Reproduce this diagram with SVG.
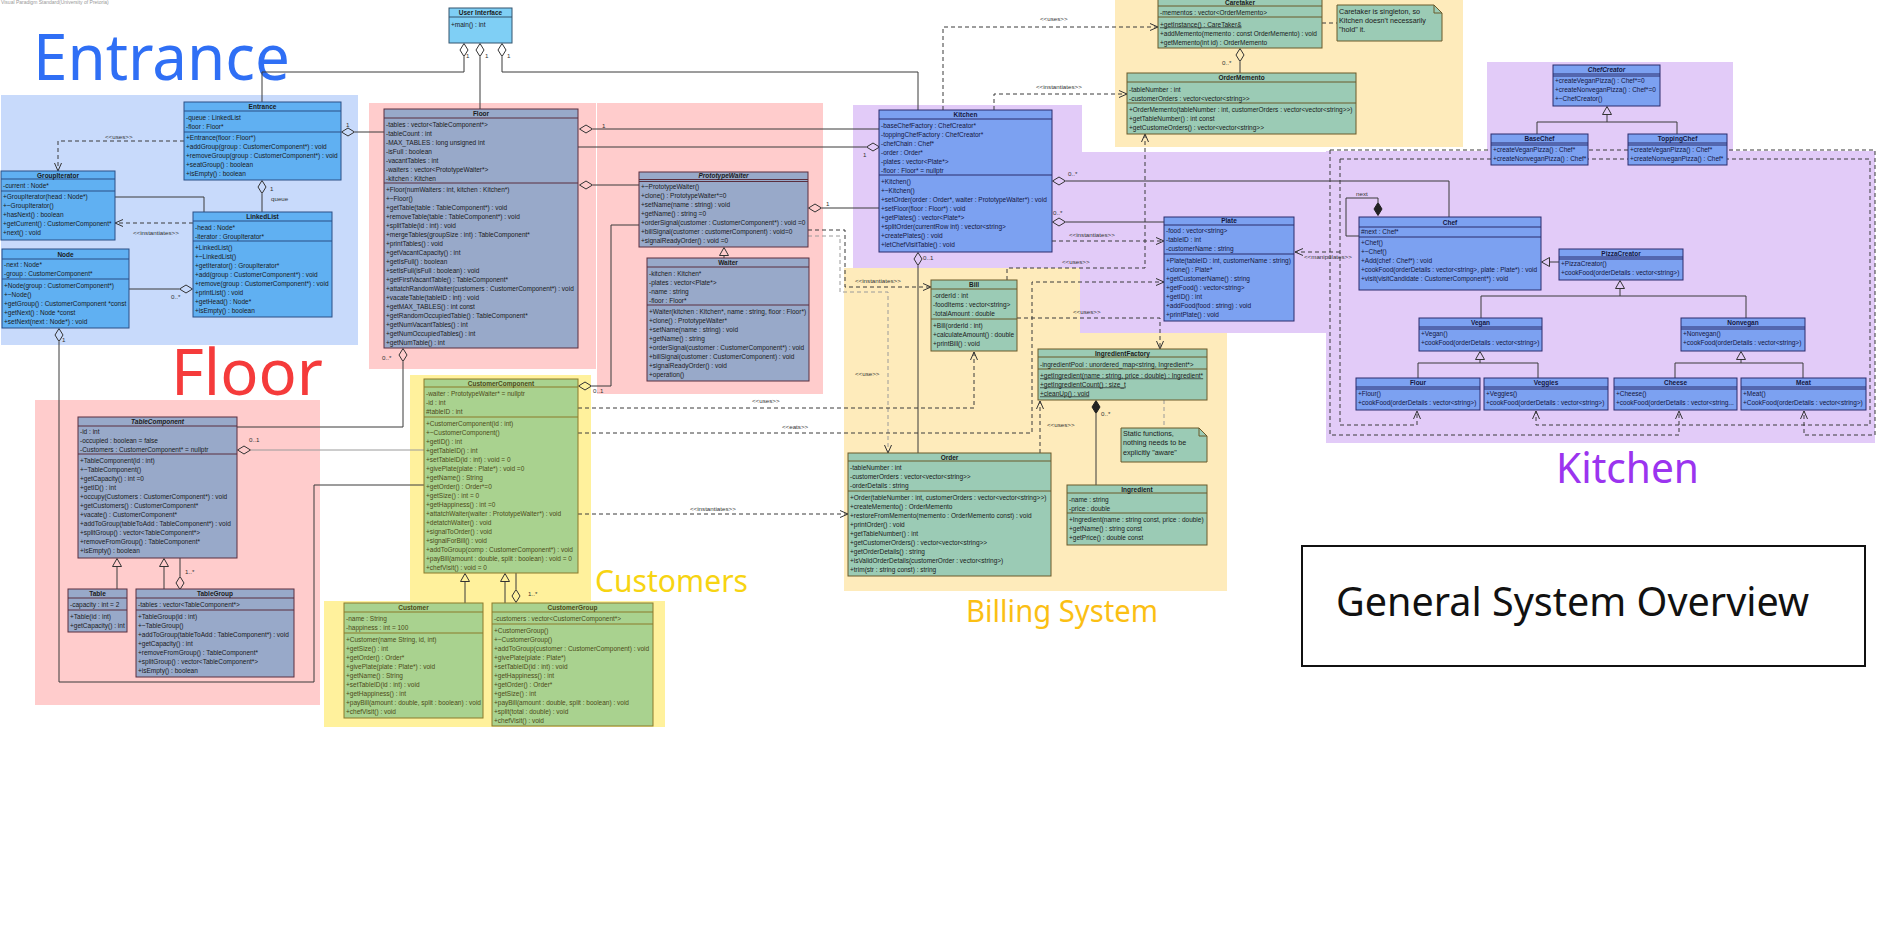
<svg xmlns="http://www.w3.org/2000/svg" width="1879" height="931" viewBox="0 0 1879 931">
<style>
.t{font-family:"Liberation Sans",Arial,sans-serif;font-size:6.5px;fill:#1a1a1a}
.hd{font-weight:bold;text-anchor:middle}
.it{font-style:italic}
.ul{text-decoration:underline}
.nt{font-size:7.2px}
.lb{font-family:"Liberation Sans",Arial,sans-serif;font-size:6.2px;fill:#333}
.big{font-family:"Noto Sans","Open Sans",sans-serif}
.ln{fill:none;stroke:#3a3a3a;stroke-width:1}
.ds{stroke-dasharray:4 3}
.gr{stroke:#9a9a9a}
.bx{stroke-width:1}
.sp{fill:none;stroke-width:1}
.ui .bx{fill:#7fcff5;stroke:#34556e}.ui .sp{stroke:#34556e}
.ent .bx{fill:#60b0f2;stroke:#2a4f86}.ent .sp{stroke:#2a4f86}
.flr .bx{fill:#98a9c9;stroke:#5a2f3f}.flr .sp{stroke:#5a2f3f}
.cus .bx{fill:#a9d28f;stroke:#8b7b2b}.cus .sp{stroke:#8b7b2b}.cus .t{fill:#4d4a18}
.bil .bx{fill:#9bcbb5;stroke:#6b5a2a}.bil .sp{stroke:#6b5a2a}
.kit .bx{fill:#7ca1f1;stroke:#2a2c6c}.kit .sp{stroke:#2a2c6c}.kit .t{fill:#141640}
.rg-b{fill:#c8dafb}.rg-p{fill:#ffcccc}.rg-y{fill:#fff19c}.rg-c{fill:#feebbb}.rg-v{fill:#e2cbf8}
</style>
<defs>
<marker id="ah" viewBox="0 0 8 8" refX="8" refY="4" markerWidth="8" markerHeight="8" markerUnits="userSpaceOnUse" orient="auto" overflow="visible"><path d="M0,0.5 L8,4 L0,7.5" fill="none" stroke="#333" stroke-width="1"/></marker>
<marker id="dm" viewBox="0 -4.5 14 9" refX="0" refY="0" markerWidth="14" markerHeight="9" markerUnits="userSpaceOnUse" orient="auto-start-reverse" overflow="visible"><path d="M0.5,0 L7,-4 L13.5,0 L7,4 Z" fill="none" stroke="#333" stroke-width="1"/></marker>
<marker id="dmf" viewBox="0 -4.5 14 9" refX="0" refY="0" markerWidth="14" markerHeight="9" markerUnits="userSpaceOnUse" orient="auto-start-reverse" overflow="visible"><path d="M0.5,0 L7,-4 L13.5,0 L7,4 Z" fill="#222" stroke="#222" stroke-width="1"/></marker>
<marker id="tri" viewBox="0 -5 9 10" refX="0" refY="0" markerWidth="9" markerHeight="10" markerUnits="userSpaceOnUse" orient="auto" overflow="visible"><path d="M0.5,-4.5 L8.5,0 L0.5,4.5 Z" fill="none" stroke="#333" stroke-width="1"/></marker>
</defs>
<rect x="0" y="0" width="1879" height="931" fill="#fff"/>
<text x="1" y="3.5" style="font-family:'Liberation Sans',Arial,sans-serif;font-size:5px;fill:#999">Visual Paradigm Standard(University of Pretoria)</text>

<g id="regions">
<rect class="rg-b" x="1" y="95" width="357" height="250"/>
<rect class="rg-p" x="369" y="103" width="227" height="266"/>
<rect class="rg-p" x="597" y="103" width="226" height="291"/>
<rect class="rg-p" x="35" y="400" width="285" height="305"/>
<rect class="rg-y" x="410" y="375" width="181" height="227"/>
<rect class="rg-y" x="324" y="601" width="341" height="126"/>
<rect class="rg-c" x="844" y="268" width="383" height="323"/>
<rect class="rg-c" x="1115" y="0" width="348" height="147"/>
<rect class="rg-v" x="853" y="105" width="229" height="163"/>
<rect class="rg-v" x="1080" y="152" width="286" height="181"/>
<rect class="rg-v" x="1326" y="151" width="549" height="292"/>
<rect class="rg-v" x="1487" y="62" width="246" height="91"/>
</g>

<g id="area-labels" class="big">
<text x="33" y="80" font-size="64" fill="#2f6ff5" textLength="257" lengthAdjust="spacingAndGlyphs">Entrance</text>
<text x="171" y="395" font-size="64" fill="#f53b3b" textLength="152" lengthAdjust="spacingAndGlyphs">Floor</text>
<text x="595" y="592" font-size="31" fill="#f7d412" textLength="153" lengthAdjust="spacingAndGlyphs">Customers</text>
<text x="966" y="622" font-size="30" fill="#fbbf14" textLength="192" lengthAdjust="spacingAndGlyphs">Billing System</text>
<text x="1556" y="483" font-size="42" fill="#9b34ef" textLength="143" lengthAdjust="spacingAndGlyphs">Kitchen</text>
</g>

<g id="connectors">
<path class="ln" d="M464,57 V72 H262 V102" marker-start="url(#dm)"/>
<path class="ln" d="M480,57 V109" marker-start="url(#dm)"/>
<path class="ln" d="M502,57 V72 H918 V110" marker-start="url(#dm)"/>
<path class="ln" d="M355,132 H384" marker-start="url(#dm)"/>
<path class="ln" d="M262,194 V212" marker-start="url(#dm)"/>
<path class="ln" d="M115,197 H204 V212"/>
<path class="ln" d="M179,289 H129" marker-start="url(#dm)"/>
<path class="ln" d="M59,342 V682 H314 V485 H424" marker-start="url(#dm)"/>
<path class="ln" d="M593,129 H879" marker-start="url(#dm)"/>
<path class="ln" d="M866,147 H578" marker-start="url(#dm)"/>
<path class="ln" d="M593,185 H639" marker-start="url(#dm)"/>
<path class="ln" d="M403,362 V427 H237" marker-start="url(#dm)"/>
<path class="ln" d="M822,208 H879" marker-start="url(#dm)"/>
<path class="ln" d="M592,386 H611 V225 H639" marker-start="url(#dm)"/>
<path class="ln gr" d="M251,450 H424" marker-start="url(#dm)"/>
<path class="ln" d="M180,576 V558" marker-start="url(#dm)"/>
<path class="ln" d="M117,589 V567" marker-end="url(#tri)"/>
<path class="ln" d="M164,589 V567" marker-end="url(#tri)"/>
<path class="ln" d="M724,258 V256" marker-end="url(#tri)"/>
<path class="ln" d="M465,603 V582" marker-end="url(#tri)"/>
<path class="ln" d="M505,603 V582" marker-end="url(#tri)"/>
<path class="ln" d="M516,589 V573" marker-start="url(#dm)"/>
<path class="ln" d="M918,266 V453" marker-start="url(#dm)"/>
<path class="ln" d="M1066,222 H1164" marker-start="url(#dm)"/>
<path class="ln" d="M1066,181 H1449 V217" marker-start="url(#dm)"/>
<path class="ln" d="M1240,62 V73" marker-start="url(#dm)"/>
<path class="ln" d="M1096,414 V485" marker-start="url(#dmf)"/>
<path class="ln" d="M1378,202 V198 H1346 V236 H1359" marker-start="url(#dmf)"/>
<path class="ln" d="M1559,262 H1550" marker-end="url(#tri)"/>
<path class="ln" d="M1537,134 V122 H1677 V134"/>
<path class="ln" d="M1607,122 V115" marker-end="url(#tri)"/>
<path class="ln" d="M1481,318 V296 H1746 V318"/>
<path class="ln" d="M1620,296 V289" marker-end="url(#tri)"/>
<path class="ln" d="M1418,378 V363 H1538 V378"/>
<path class="ln" d="M1480,363 V360" marker-end="url(#tri)"/>
<path class="ln" d="M1675,378 V363 H1803 V378"/>
<path class="ln" d="M1741,363 V360" marker-end="url(#tri)"/>
<path class="ln ds" d="M184,141 H58 V171" marker-end="url(#ah)"/>
<path class="ln ds" d="M193,223 H115" marker-end="url(#ah)"/>
<path class="ln ds" d="M943,110 V27 H1158" marker-end="url(#ah)"/>
<path class="ln ds" d="M994,110 V94 H1127" marker-end="url(#ah)"/>
<path class="ln ds" d="M1007,280 V268 H1145 V134" marker-end="url(#ah)"/>
<path class="ln ds" d="M1052,241 H1164" marker-end="url(#ah)"/>
<path class="ln ds" d="M808,230 H845 V287 H931" marker-end="url(#ah)"/>
<path class="ln ds gr" d="M808,236 H840 V292 H888 V453" marker-end="url(#ah)"/>
<path class="ln ds" d="M578,408 H974 V352" marker-end="url(#ah)"/>
<path class="ln ds" d="M578,433 H1032 V282 H1164" marker-end="url(#ah)"/>
<path class="ln ds" d="M578,514 H848" marker-end="url(#ah)"/>
<path class="ln ds" d="M1017,318 H1160 V349" marker-end="url(#ah)"/>
<path class="ln ds" d="M1040,453 V401" marker-end="url(#ah)"/>
<path class="ln ds" d="M1322,23 H1337"/>
<path class="ln ds gr" d="M1164,400 V428"/>
<path class="ln ds" d="M1340,252 H1295" marker-end="url(#ah)"/>
<path class="ln ds" d="M1340,159 V425 H1417 V411" marker-end="url(#ah)"/>
<path class="ln ds" d="M1340,159 H1870 V425 H1536 V411" marker-end="url(#ah)"/>
<path class="ln ds" d="M1330,150 V435 H1679 V411" marker-end="url(#ah)"/>
<path class="ln ds" d="M1330,150 H1875 V435 H1804 V411" marker-end="url(#ah)"/>
<g class="lb">
<text x="466" y="57.5">1</text><text x="485" y="57.5">1</text><text x="507" y="57.5">1</text>
<text x="346" y="126.5">1</text>
<text x="270" y="190.5">1</text><text x="271" y="200.5">queue</text>
<text x="171" y="298.5">0..*</text>
<text x="62" y="341.5">1</text>
<text x="602" y="127.5">1</text>
<text x="382" y="359.5">0..*</text>
<text x="863" y="156.5">1</text>
<text x="826" y="205.5">1</text>
<text x="593" y="393">0..1</text>
<text x="249" y="441.5">0..1</text>
<text x="185" y="573.5">1..*</text>
<text x="528" y="595.5">1..*</text>
<text x="923" y="259.5">0..1</text>
<text x="1053" y="214.5">0..*</text>
<text x="1068" y="175.5">0..*</text>
<text x="1222" y="64.5">0..*</text>
<text x="1101" y="415.5">0..*</text>
<text x="1356" y="195.5">next</text>
<text x="105" y="138.5">&lt;&lt;uses&gt;&gt;</text>
<text x="133" y="234.5">&lt;&lt;instantiates&gt;&gt;</text>
<text x="1040" y="21">&lt;&lt;uses&gt;&gt;</text>
<text x="1036" y="89">&lt;&lt;instantiates&gt;&gt;</text>
<text x="1062" y="264">&lt;&lt;uses&gt;&gt;</text>
<text x="1069" y="237">&lt;&lt;instantiates&gt;&gt;</text>
<text x="855" y="282.5">&lt;&lt;instantiates&gt;&gt;</text>
<text x="855" y="376">&lt;&lt;use&gt;&gt;</text>
<text x="752" y="403">&lt;&lt;uses&gt;&gt;</text>
<text x="782" y="429">&lt;&lt;eats&gt;&gt;</text>
<text x="690" y="510.5">&lt;&lt;instantiates&gt;&gt;</text>
<text x="1073" y="313.5">&lt;&lt;uses&gt;&gt;</text>
<text x="1047" y="426.5">&lt;&lt;uses&gt;&gt;</text>
<text x="1304" y="259">&lt;&lt;manipulates&gt;&gt;</text>
</g>
</g>

<g id="user-interface" class="ui">
<rect class="bx" x="449" y="8" width="63" height="35"/>
<path class="sp" d="M449,17H512"/>
<text class="t hd" x="480.5" y="15">User Interface</text>
<text class="t" x="451" y="26.5">+main() : int</text>
</g>

<g id="entrance" class="ent">
<rect class="bx" x="184" y="102" width="157" height="78"/>
<path class="sp" d="M184,111H341M184,132H341"/>
<text class="t hd" x="262.5" y="109">Entrance</text>
<text class="t" x="186" y="119.5"><tspan x="186">-queue : LinkedList</tspan><tspan x="186" dy="9">-floor : Floor*</tspan></text>
<text class="t" x="186" y="139.5"><tspan x="186">+Entrance(floor : Floor*)</tspan><tspan x="186" dy="9">+addGroup(group : CustomerComponent*) : void</tspan><tspan x="186" dy="9">+removeGroup(group : CustomerComponent*) : void</tspan><tspan x="186" dy="9">+seatGroup() : boolean</tspan><tspan x="186" dy="9">+isEmpty() : boolean</tspan></text>
</g>

<g id="group-iterator" class="ent">
<rect class="bx" x="1" y="171" width="114" height="69"/>
<path class="sp" d="M1,179H115M1,191H115"/>
<text class="t hd" x="58" y="177.5">GroupIterator</text>
<text class="t" x="3" y="187.5">-current : Node*</text>
<text class="t" x="3" y="198.5"><tspan x="3">+GroupIterator(head : Node*)</tspan><tspan x="3" dy="9">+~GroupIterator()</tspan><tspan x="3" dy="9">+hasNext() : boolean</tspan><tspan x="3" dy="9">+getCurrent() : CustomerComponent*</tspan><tspan x="3" dy="9">+next() : void</tspan></text>
</g>

<g id="linked-list" class="ent">
<rect class="bx" x="193" y="212" width="139" height="105"/>
<path class="sp" d="M193,221H332M193,241H332"/>
<text class="t hd" x="262.5" y="219">LinkedList</text>
<text class="t" x="195" y="229.5"><tspan x="195">-head : Node*</tspan><tspan x="195" dy="9">-iterator : GroupIterator*</tspan></text>
<text class="t" x="195" y="249.5"><tspan x="195">+LinkedList()</tspan><tspan x="195" dy="9">+~LinkedList()</tspan><tspan x="195" dy="9">+getIterator() : GroupIterator*</tspan><tspan x="195" dy="9">+add(group : CustomerComponent*) : void</tspan><tspan x="195" dy="9">+remove(group : CustomerComponent*) : void</tspan><tspan x="195" dy="9">+printList() : void</tspan><tspan x="195" dy="9">+getHead() : Node*</tspan><tspan x="195" dy="9">+isEmpty() : boolean</tspan></text>
</g>

<g id="node" class="ent">
<rect class="bx" x="2" y="249" width="127" height="79"/>
<path class="sp" d="M2,259H129M2,279H129"/>
<text class="t hd" x="65.5" y="256.5">Node</text>
<text class="t" x="4" y="266.5"><tspan x="4">-next : Node*</tspan><tspan x="4" dy="9">-group : CustomerComponent*</tspan></text>
<text class="t" x="4" y="287.5"><tspan x="4">+Node(group : CustomerComponent*)</tspan><tspan x="4" dy="9">+~Node()</tspan><tspan x="4" dy="9">+getGroup() : CustomerComponent *const</tspan><tspan x="4" dy="9">+getNext() : Node *const</tspan><tspan x="4" dy="9">+setNext(next : Node*) : void</tspan></text>
</g>

<g id="floor" class="flr">
<rect class="bx" x="384" y="109" width="194" height="239"/>
<path class="sp" d="M384,118H578M384,183H578"/>
<text class="t hd" x="481" y="116">Floor</text>
<text class="t" x="386" y="126.5"><tspan x="386">-tables : vector&lt;TableComponent*&gt;</tspan><tspan x="386" dy="9">-tableCount : int</tspan><tspan x="386" dy="9">-MAX_TABLES : long unsigned int</tspan><tspan x="386" dy="9">-isFull : boolean</tspan><tspan x="386" dy="9">-vacantTables : int</tspan><tspan x="386" dy="9">-waiters : vector&lt;PrototypeWaiter*&gt;</tspan><tspan x="386" dy="9">-kitchen : Kitchen</tspan></text>
<text class="t" x="386" y="191.5"><tspan x="386">+Floor(numWaiters : int, kitchen : Kitchen*)</tspan><tspan x="386" dy="9">+~Floor()</tspan><tspan x="386" dy="9">+getTable(table : TableComponent*) : void</tspan><tspan x="386" dy="9">+removeTable(table : TableComponent*) : void</tspan><tspan x="386" dy="9">+splitTable(id : int) : void</tspan><tspan x="386" dy="9">+mergeTables(groupSize : int) : TableComponent*</tspan><tspan x="386" dy="9">+printTables() : void</tspan><tspan x="386" dy="9">+getVacantCapacity() : int</tspan><tspan x="386" dy="9">+getIsFull() : boolean</tspan><tspan x="386" dy="9">+setIsFull(isFull : boolean) : void</tspan><tspan x="386" dy="9">+getFirstVacantTable() : TableComponent*</tspan><tspan x="386" dy="9">+attatchRandomWaiter(customers : CustomerComponent*) : void</tspan><tspan x="386" dy="9">+vacateTable(tableID : int) : void</tspan><tspan x="386" dy="9">+getMAX_TABLES() : int const</tspan><tspan x="386" dy="9">+getRandomOccupiedTable() : TableComponent*</tspan><tspan x="386" dy="9">+getNumVacantTables() : int</tspan><tspan x="386" dy="9">+getNumOccupiedTables() : int</tspan><tspan x="386" dy="9">+getNumTable() : int</tspan></text>
</g>

<g id="prototype-waiter" class="flr">
<rect class="bx" x="639" y="172" width="169" height="75"/>
<path class="sp" d="M639,179.5H808M639,181.5H808"/>
<text class="t hd it" x="723.5" y="178">PrototypeWaiter</text>
<text class="t" x="641" y="188.5"><tspan x="641">+~PrototypeWaiter()</tspan><tspan x="641" dy="9">+clone() : PrototypeWaiter*=0</tspan><tspan x="641" dy="9">+setName(name : string) : void</tspan><tspan x="641" dy="9">+getName() : string =0</tspan><tspan x="641" dy="9">+orderSignal(customer : CustomerComponent*) : void =0</tspan><tspan x="641" dy="9">+billSignal(customer : customerComponent) : void=0</tspan><tspan x="641" dy="9">+signalReadyOrder() : void =0</tspan></text>
</g>

<g id="waiter" class="flr">
<rect class="bx" x="647" y="258" width="162" height="123"/>
<path class="sp" d="M647,267H809M647,305H809"/>
<text class="t hd" x="728" y="265">Waiter</text>
<text class="t" x="649" y="275.5"><tspan x="649">-kitchen : Kitchen*</tspan><tspan x="649" dy="9">-plates : vector&lt;Plate*&gt;</tspan><tspan x="649" dy="9">-name : string</tspan><tspan x="649" dy="9">-floor : Floor*</tspan></text>
<text class="t" x="649" y="313.5"><tspan x="649">+Waiter(kitchen : Kitchen*, name : string, floor : Floor*)</tspan><tspan x="649" dy="9">+clone() : PrototypeWaiter*</tspan><tspan x="649" dy="9">+setName(name : string) : void</tspan><tspan x="649" dy="9">+getName() : string</tspan><tspan x="649" dy="9">+orderSignal(customer : CustomerComponent*) : void</tspan><tspan x="649" dy="9">+billSignal(customer : CustomerComponent) : void</tspan><tspan x="649" dy="9">+signalReadyOrder() : void</tspan><tspan x="649" dy="9">+operation()</tspan></text>
</g>

<g id="table-component" class="flr">
<rect class="bx" x="78" y="417" width="159" height="141"/>
<path class="sp" d="M78,426H237M78,454H237"/>
<text class="t hd it" x="157.5" y="424">TableComponent</text>
<text class="t" x="80" y="433.5"><tspan x="80">-id : int</tspan><tspan x="80" dy="9">-occupied : boolean = false</tspan><tspan x="80" dy="9">-Customers : CustomerComponent* = nullptr</tspan></text>
<text class="t" x="80" y="463"><tspan x="80">+TableComponent(id : int)</tspan><tspan x="80" dy="9">+~TableComponent()</tspan><tspan x="80" dy="9">+getCapacity() : int =0</tspan><tspan x="80" dy="9">+getID() : int</tspan><tspan x="80" dy="9">+occupy(Customers : CustomerComponent*) : void</tspan><tspan x="80" dy="9">+getCustomers() : CustomerComponent*</tspan><tspan x="80" dy="9">+vacate() : CustomerComponent*</tspan><tspan x="80" dy="9">+addToGroup(tableToAdd : TableComponent*) : void</tspan><tspan x="80" dy="9">+splitGroup() : vector&lt;TableComponent*&gt;</tspan><tspan x="80" dy="9">+removeFromGroup() : TableComponent*</tspan><tspan x="80" dy="9">+isEmpty() : boolean</tspan></text>
</g>

<g id="table" class="flr">
<rect class="bx" x="68" y="589" width="59" height="43"/>
<path class="sp" d="M68,598H127M68,610H127"/>
<text class="t hd" x="97.5" y="596">Table</text>
<text class="t" x="70" y="606.5">-capacity : int = 2</text>
<text class="t" x="70" y="618.5"><tspan x="70">+Table(id : int)</tspan><tspan x="70" dy="9">+getCapacity() : int</tspan></text>
</g>

<g id="table-group" class="flr">
<rect class="bx" x="136" y="589" width="158" height="88"/>
<path class="sp" d="M136,598H294M136,610H294"/>
<text class="t hd" x="215" y="596">TableGroup</text>
<text class="t" x="138" y="606.5">-tables : vector&lt;TableComponent*&gt;</text>
<text class="t" x="138" y="618.5"><tspan x="138">+TableGroup(id : int)</tspan><tspan x="138" dy="9">+~TableGroup()</tspan><tspan x="138" dy="9">+addToGroup(tableToAdd : TableComponent*) : void</tspan><tspan x="138" dy="9">+getCapacity() : int</tspan><tspan x="138" dy="9">+removeFromGroup() : TableComponent*</tspan><tspan x="138" dy="9">+splitGroup() : vector&lt;TableComponent*&gt;</tspan><tspan x="138" dy="9">+isEmpty() : boolean</tspan></text>
</g>

<g id="customer-component" class="cus">
<rect class="bx" x="424" y="379" width="154" height="194"/>
<path class="sp" d="M424,387H578M424,417H578"/>
<text class="t hd" x="501" y="385.5">CustomerComponent</text>
<text class="t" x="426" y="395.5"><tspan x="426">-waiter : PrototypeWaiter* = nullptr</tspan><tspan x="426" dy="9">-id : int</tspan><tspan x="426" dy="9">#tableID : int</tspan></text>
<text class="t" x="426" y="425.5"><tspan x="426">+CustomerComponent(id : int)</tspan><tspan x="426" dy="9">+~CustomerComponent()</tspan><tspan x="426" dy="9">+getID() : int</tspan><tspan x="426" dy="9">+getTableID() : int</tspan><tspan x="426" dy="9">+setTableID(id : int) : void = 0</tspan><tspan x="426" dy="9">+givePlate(plate : Plate*) : void =0</tspan><tspan x="426" dy="9">+getName() : String</tspan><tspan x="426" dy="9">+getOrder() : Order*=0</tspan><tspan x="426" dy="9">+getSize() : int = 0</tspan><tspan x="426" dy="9">+getHappiness() : int =0</tspan><tspan x="426" dy="9">+attatchWaiter(waiter : PrototypeWaiter*) : void</tspan><tspan x="426" dy="9">+detatchWaiter() : void</tspan><tspan x="426" dy="9">+signalToOrder() : void</tspan><tspan x="426" dy="9">+signalForBill() : void</tspan><tspan x="426" dy="9">+addToGroup(comp : CustomerComponent*) : void</tspan><tspan x="426" dy="9">+payBill(amount : double, split : boolean) : void = 0</tspan><tspan x="426" dy="9">+chefVisit() : void = 0</tspan></text>
</g>

<g id="customer" class="cus">
<rect class="bx" x="344" y="603" width="139" height="115"/>
<path class="sp" d="M344,612H483M344,633H483"/>
<text class="t hd" x="413.5" y="610">Customer</text>
<text class="t" x="346" y="620.5"><tspan x="346">-name : String</tspan><tspan x="346" dy="9">-happiness : int = 100</tspan></text>
<text class="t" x="346" y="641.5"><tspan x="346">+Customer(name String, id, int)</tspan><tspan x="346" dy="9">+getSize() : int</tspan><tspan x="346" dy="9">+getOrder() : Order*</tspan><tspan x="346" dy="9">+givePlate(plate : Plate*) : void</tspan><tspan x="346" dy="9">+getName() : String</tspan><tspan x="346" dy="9">+setTableID(id : int) : void</tspan><tspan x="346" dy="9">+getHappiness() : int</tspan><tspan x="346" dy="9">+payBill(amount : double, split : boolean) : void</tspan><tspan x="346" dy="9">+chefVisit() : void</tspan></text>
</g>

<g id="customer-group" class="cus">
<rect class="bx" x="492" y="603" width="161" height="123"/>
<path class="sp" d="M492,612H653M492,624H653"/>
<text class="t hd" x="572.5" y="610">CustomerGroup</text>
<text class="t" x="494" y="620.5">-customers : vector&lt;CustomerComponent*&gt;</text>
<text class="t" x="494" y="632.5"><tspan x="494">+CustomerGroup()</tspan><tspan x="494" dy="9">+~CustomerGroup()</tspan><tspan x="494" dy="9">+addToGroup(customer : CustomerComponent) : void</tspan><tspan x="494" dy="9">+givePlate(plate : Plate*)</tspan><tspan x="494" dy="9">+setTableID(id : int) : void</tspan><tspan x="494" dy="9">+getHappiness() : int</tspan><tspan x="494" dy="9">+getOrder() : Order*</tspan><tspan x="494" dy="9">+getSize() : int</tspan><tspan x="494" dy="9">+payBill(amount : double, split : boolean) : void</tspan><tspan x="494" dy="9">+split(total : double) : void</tspan><tspan x="494" dy="9">+chefVisit() : void</tspan></text>
</g>

<g id="kitchen" class="kit">
<rect class="bx" x="879" y="110" width="173" height="142"/>
<path class="sp" d="M879,119H1052M879,175H1052"/>
<text class="t hd" x="965.5" y="117">Kitchen</text>
<text class="t" x="881" y="127.5"><tspan x="881">-baseChefFactory : ChefCreator*</tspan><tspan x="881" dy="9">-toppingChefFactory : ChefCreator*</tspan><tspan x="881" dy="9">-chefChain : Chef*</tspan><tspan x="881" dy="9">-order : Order*</tspan><tspan x="881" dy="9">-plates : vector&lt;Plate*&gt;</tspan><tspan x="881" dy="9">-floor : Floor* = nullptr</tspan></text>
<text class="t" x="881" y="183.5"><tspan x="881">+Kitchen()</tspan><tspan x="881" dy="9">+~Kitchen()</tspan><tspan x="881" dy="9">+setOrder(order : Order*, waiter : PrototypeWaiter*) : void</tspan><tspan x="881" dy="9">+setFloor(floor : Floor*) : void</tspan><tspan x="881" dy="9">+getPlates() : vector&lt;Plate*&gt;</tspan><tspan x="881" dy="9">+splitOrder(currentRow int) : vector&lt;string&gt;</tspan><tspan x="881" dy="9">+createPlates() : void</tspan><tspan x="881" dy="9">+letChefVisitTable() : void</tspan></text>
</g>

<g id="plate" class="kit">
<rect class="bx" x="1164" y="217" width="130" height="104"/>
<path class="sp" d="M1164,225H1294M1164,254H1294"/>
<text class="t hd" x="1229" y="223">Plate</text>
<text class="t" x="1166" y="233"><tspan x="1166">-food : vector&lt;string&gt;</tspan><tspan x="1166" dy="9">-tableID : int</tspan><tspan x="1166" dy="9">-customerName : string</tspan></text>
<text class="t" x="1166" y="262.5"><tspan x="1166">+Plate(tableID : int, customerName : string)</tspan><tspan x="1166" dy="9">+clone() : Plate*</tspan><tspan x="1166" dy="9">+getCustomerName() : string</tspan><tspan x="1166" dy="9">+getFood() : vector&lt;string&gt;</tspan><tspan x="1166" dy="9">+getID() : int</tspan><tspan x="1166" dy="9">+addFood(food : string) : void</tspan><tspan x="1166" dy="9">+printPlate() : void</tspan></text>
</g>

<g id="bill" class="bil">
<rect class="bx" x="931" y="280" width="86" height="71"/>
<path class="sp" d="M931,289H1017M931,319H1017"/>
<text class="t hd" x="974" y="287">Bill</text>
<text class="t" x="933" y="297.5"><tspan x="933">-orderId : int</tspan><tspan x="933" dy="9">-foodItems : vector&lt;string&gt;</tspan><tspan x="933" dy="9">-totalAmount : double</tspan></text>
<text class="t" x="933" y="327.5"><tspan x="933">+Bill(orderId : int)</tspan><tspan x="933" dy="9">+calculateAmount() : double</tspan><tspan x="933" dy="9">+printBill() : void</tspan></text>
</g>

<g id="order" class="bil">
<rect class="bx" x="848" y="453" width="203" height="123"/>
<path class="sp" d="M848,461H1051M848,491H1051"/>
<text class="t hd" x="949.5" y="459.5">Order</text>
<text class="t" x="850" y="469.5"><tspan x="850">-tableNumber : int</tspan><tspan x="850" dy="9">-customerOrders : vector&lt;vector&lt;string&gt;&gt;</tspan><tspan x="850" dy="9">-orderDetails : string</tspan></text>
<text class="t" x="850" y="499.5"><tspan x="850">+Order(tableNumber : int, customerOrders : vector&lt;vector&lt;string&gt;&gt;)</tspan><tspan x="850" dy="9">+createMemento() : OrderMemento</tspan><tspan x="850" dy="9">+restoreFromMemento(memento : OrderMemento const) : void</tspan><tspan x="850" dy="9">+printOrder() : void</tspan><tspan x="850" dy="9">+getTableNumber() : int</tspan><tspan x="850" dy="9">+getCustomerOrders() : vector&lt;vector&lt;string&gt;&gt;</tspan><tspan x="850" dy="9">+getOrderDetails() : string</tspan><tspan x="850" dy="9">+isValidOrderDetails(customerOrder : vector&lt;string&gt;)</tspan><tspan x="850" dy="9">+trim(str : string const) : string</tspan></text>
</g>

<g id="ingredient-factory" class="bil">
<rect class="bx" x="1038" y="349" width="169" height="51"/>
<path class="sp" d="M1038,357H1207M1038,369H1207"/>
<text class="t hd" x="1122.5" y="355.5">IngredientFactory</text>
<text class="t" x="1040" y="366.5">-ingredientPool : unordered_map&lt;string, Ingredient*&gt;</text>
<text class="t ul" x="1040" y="377.5"><tspan x="1040">+getIngredient(name : string, price : double) : Ingredient*</tspan><tspan x="1040" dy="9">+getIngredientCount() : size_t</tspan><tspan x="1040" dy="9">+cleanUp() : void</tspan></text>
</g>

<g id="note-static" class="bil">
<path class="bx" d="M1121,428H1199L1207,436V462H1121Z"/>
<path class="sp" d="M1199,428V436H1207"/>
<text class="t nt" x="1123" y="435.5"><tspan x="1123">Static functions,</tspan><tspan x="1123" dy="9.5">nothing needs to be</tspan><tspan x="1123" dy="9.5">explicitly "aware"</tspan></text>
</g>

<g id="ingredient" class="bil">
<rect class="bx" x="1067" y="485" width="140" height="60"/>
<path class="sp" d="M1067,493H1207M1067,513H1207"/>
<text class="t hd" x="1137" y="491.5">Ingredient</text>
<text class="t" x="1069" y="501.5"><tspan x="1069">-name : string</tspan><tspan x="1069" dy="9">-price : double</tspan></text>
<text class="t" x="1069" y="521.5"><tspan x="1069">+Ingredient(name : string const, price : double)</tspan><tspan x="1069" dy="9">+getName() : string const</tspan><tspan x="1069" dy="9">+getPrice() : double const</tspan></text>
</g>

<g id="caretaker" class="bil">
<rect class="bx" x="1158" y="-2" width="164" height="50"/>
<path class="sp" d="M1158,6H1322M1158,17H1322"/>
<text class="t hd" x="1240" y="4.5">Caretaker</text>
<text class="t" x="1160" y="14.5">-mementos : vector&lt;OrderMemento&gt;</text>
<text class="t" x="1160" y="26.5"><tspan x="1160" class="ul">+getInstance() : CareTaker&amp;</tspan><tspan x="1160" dy="9">+addMemento(memento : const OrderMemento) : void</tspan><tspan x="1160" dy="9">+getMemento(int id) : OrderMemento</tspan></text>
</g>

<g id="note-caretaker" class="bil">
<path class="bx" d="M1337,5H1434L1442,13V41H1337Z"/>
<path class="sp" d="M1434,5V13H1442"/>
<text class="t nt" x="1339" y="14"><tspan x="1339">Caretaker is singleton, so</tspan><tspan x="1339" dy="9">Kitchen doesn't necessarily</tspan><tspan x="1339" dy="9">"hold" it.</tspan></text>
</g>

<g id="order-memento" class="bil">
<rect class="bx" x="1127" y="73" width="229" height="61"/>
<path class="sp" d="M1127,82H1356M1127,103H1356"/>
<text class="t hd" x="1241.5" y="80">OrderMemento</text>
<text class="t" x="1129" y="91.5"><tspan x="1129">-tableNumber : int</tspan><tspan x="1129" dy="9">-customerOrders : vector&lt;vector&lt;string&gt;&gt;</tspan></text>
<text class="t" x="1129" y="111.5"><tspan x="1129">+OrderMemento(tableNumber : int, customerOrders : vector&lt;vector&lt;string&gt;&gt;)</tspan><tspan x="1129" dy="9">+getTableNumber() : int const</tspan><tspan x="1129" dy="9">+getCustomeOrders() : vector&lt;vector&lt;string&gt;&gt;</tspan></text>
</g>

<g id="chef-creator" class="kit">
<rect class="bx" x="1553" y="65" width="107" height="41"/>
<path class="sp" d="M1553,74H1660M1553,76H1660"/>
<text class="t hd it" x="1606.5" y="72">ChefCreator</text>
<text class="t" x="1555" y="82.5"><tspan x="1555">+createVeganPizza() : Chef*=0</tspan><tspan x="1555" dy="9">+createNonveganPizza() : Chef*=0</tspan><tspan x="1555" dy="9">+~ChefCreator()</tspan></text>
</g>

<g id="base-chef" class="kit">
<rect class="bx" x="1491" y="134" width="97" height="31"/>
<path class="sp" d="M1491,143H1588M1491,145H1588"/>
<text class="t hd" x="1539.5" y="141">BaseChef</text>
<text class="t" x="1493" y="151.5"><tspan x="1493">+createVeganPizza() : Chef*</tspan><tspan x="1493" dy="9">+createNonveganPizza() : Chef*</tspan></text>
</g>

<g id="topping-chef" class="kit">
<rect class="bx" x="1628" y="134" width="99" height="31"/>
<path class="sp" d="M1628,143H1727M1628,145H1727"/>
<text class="t hd" x="1677.5" y="141">ToppingChef</text>
<text class="t" x="1630" y="151.5"><tspan x="1630">+createVeganPizza() : Chef*</tspan><tspan x="1630" dy="9">+createNonveganPizza() : Chef*</tspan></text>
</g>

<g id="chef" class="kit">
<rect class="bx" x="1359" y="217" width="182" height="73"/>
<path class="sp" d="M1359,227H1541M1359,237H1541"/>
<text class="t hd" x="1450" y="224.5">Chef</text>
<text class="t" x="1361" y="234">#next : Chef*</text>
<text class="t" x="1361" y="244.5"><tspan x="1361">+Chef()</tspan><tspan x="1361" dy="9">+~Chef()</tspan><tspan x="1361" dy="9">+Add(chef : Chef*) : void</tspan><tspan x="1361" dy="9">+cookFood(orderDetails : vector&lt;string&gt;, plate : Plate*) : void</tspan><tspan x="1361" dy="9">+visit(visitCandidate : CustomerComponent*) : void</tspan></text>
</g>

<g id="pizza-creator" class="kit">
<rect class="bx" x="1559" y="249" width="124" height="31"/>
<path class="sp" d="M1559,257H1683M1559,259H1683"/>
<text class="t hd" x="1621" y="255.5">PizzaCreator</text>
<text class="t" x="1561" y="265.5"><tspan x="1561">+PizzaCreator()</tspan><tspan x="1561" dy="9">+cookFood(orderDetails : vector&lt;string&gt;)</tspan></text>
</g>

<g id="vegan" class="kit">
<rect class="bx" x="1419" y="318" width="123" height="33"/>
<path class="sp" d="M1419,327H1542M1419,329H1542"/>
<text class="t hd" x="1480.5" y="325">Vegan</text>
<text class="t" x="1421" y="335.5"><tspan x="1421">+Vegan()</tspan><tspan x="1421" dy="9">+cookFood(orderDetails : vector&lt;string&gt;)</tspan></text>
</g>

<g id="nonvegan" class="kit">
<rect class="bx" x="1681" y="318" width="124" height="33"/>
<path class="sp" d="M1681,327H1805M1681,329H1805"/>
<text class="t hd" x="1743" y="325">Nonvegan</text>
<text class="t" x="1683" y="335.5"><tspan x="1683">+Nonvegan()</tspan><tspan x="1683" dy="9">+cookFood(orderDetails : vector&lt;string&gt;)</tspan></text>
</g>

<g id="flour" class="kit">
<rect class="bx" x="1356" y="378" width="124" height="32"/>
<path class="sp" d="M1356,387H1480M1356,389H1480"/>
<text class="t hd" x="1418" y="385">Flour</text>
<text class="t" x="1358" y="395.5"><tspan x="1358">+Flour()</tspan><tspan x="1358" dy="9">+cookFood(orderDetails : vector&lt;string&gt;)</tspan></text>
</g>

<g id="veggies" class="kit">
<rect class="bx" x="1484" y="378" width="124" height="32"/>
<path class="sp" d="M1484,387H1608M1484,389H1608"/>
<text class="t hd" x="1546" y="385">Veggies</text>
<text class="t" x="1486" y="395.5"><tspan x="1486">+Veggies()</tspan><tspan x="1486" dy="9">+cookFood(orderDetails : vector&lt;string&gt;)</tspan></text>
</g>

<g id="cheese" class="kit">
<rect class="bx" x="1614" y="378" width="123" height="32"/>
<path class="sp" d="M1614,387H1737M1614,389H1737"/>
<text class="t hd" x="1675.5" y="385">Cheese</text>
<text class="t" x="1616" y="395.5"><tspan x="1616">+Cheese()</tspan><tspan x="1616" dy="9">+cookFood(orderDetails : vector&lt;string...</tspan></text>
</g>

<g id="meat" class="kit">
<rect class="bx" x="1741" y="378" width="125" height="32"/>
<path class="sp" d="M1741,387H1866M1741,389H1866"/>
<text class="t hd" x="1803.5" y="385">Meat</text>
<text class="t" x="1743" y="395.5"><tspan x="1743">+Meat()</tspan><tspan x="1743" dy="9">+CookFood(orderDetails : vector&lt;string&gt;)</tspan></text>
</g>

<g id="overview">
<rect x="1302" y="546" width="563" height="120" fill="#fff" stroke="#111" stroke-width="2"/>
<text class="big" x="1336" y="616" font-size="40" fill="#111" textLength="473" lengthAdjust="spacingAndGlyphs">General System Overview</text>
</g>
</svg>
